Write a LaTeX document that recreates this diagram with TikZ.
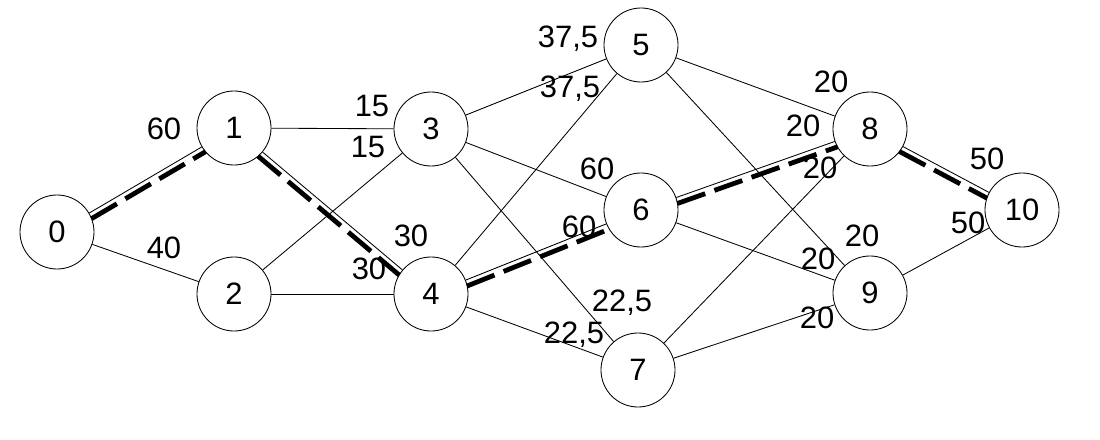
\documentclass[tikz,border=0pt]{standalone}
\usepackage{fontspec}
\setmainfont{Liberation Sans}
\usetikzlibrary{calc}

\begin{document}
\begin{tikzpicture}[x=0.025cm,y=-0.025cm,
    every node/.style={font=\fontsize{22}{24}\selectfont},
    event/.style={circle,draw,line width=0.6pt,minimum size=1.85cm,inner sep=0pt},
    work/.style={line width=0.6pt},
    crit/.style={line width=3.4pt,dash pattern=on 21pt off 7pt,shorten <=0.91cm,shorten >=0.91cm}]
    \useasboundingbox (0,0) rectangle (1100,440);
    % events
    \node[event] (e0) at (57,232) {0};
    \node[event] (e1) at (234,128) {1};
    \node[event] (e2) at (234,294) {2};
    \node[event] (e3) at (431,129) {3};
    \node[event] (e4) at (431,294) {4};
    \node[event] (e5) at (641,45) {5};
    \node[event] (e6) at (641,210) {6};
    \node[event] (e7) at (638,370) {7};
    \node[event] (e8) at (870,129) {8};
    \node[event] (e9) at (870,293) {9};
    \node[event] (e10) at (1022,210) {10};
    % works
    \foreach \a/\b in {0/1,0/2,1/3,1/4,2/3,2/4,3/5,3/6,3/7,4/5,4/6,4/7,5/8,5/9,6/8,6/9,7/8,7/9,8/10,9/10}
        \draw[work] (e\a) -- (e\b);
    % critical path
    \foreach \a/\b in {0/1,1/4,4/6,6/8,8/10}
        \draw[crit] ($(e\a.center)!0.15cm!-90:(e\b.center)$) -- ($(e\b.center)!0.15cm!90:(e\a.center)$);
    % durations
    \node (t01) at (164,129) {60};
    \node (t02) at (164,248) {40};
    \node (t13) at (372,106) {15};
    \node (t23) at (368,147) {15};
    \node (t14) at (411,236) {30};
    \node (t24) at (369,269) {30};
    \node (t35) at (568,39) {37,5};
    \node (t45) at (570,89) {37,5};
    \node (t36) at (597,169) {60};
    \node (t46) at (579,227) {60};
    \node (t37) at (622,303) {22,5};
    \node (t47) at (574,335) {22,5};
    \node (t58) at (831,82) {20};
    \node (t68) at (803,126) {20};
    \node (t78) at (820,168) {20};
    \node (t59) at (862,236) {20};
    \node (t69) at (818,259) {20};
    \node (t79) at (817,318) {20};
    \node (t810) at (987,159) {50};
    \node (t910) at (968,223) {50};
\end{tikzpicture}
\end{document}
